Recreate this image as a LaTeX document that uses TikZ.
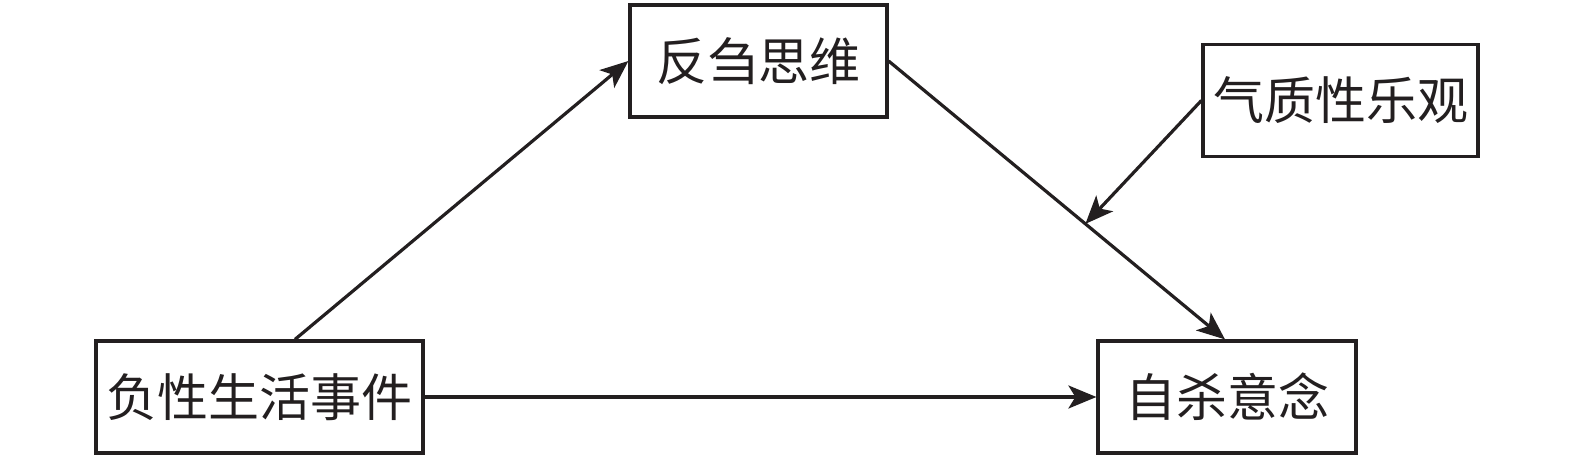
\documentclass[tikz,border=0pt]{standalone}
\usepackage{fontspec}
\newfontfamily\cjk{Noto Sans CJK SC}
\usetikzlibrary{arrows.meta,calc}
\definecolor{ink}{HTML}{231F20}
\tikzset{
  box/.style={draw=ink, text=ink, line width=1.6pt, minimum height=56pt, inner sep=0pt, font=\cjk\fontsize{25.5pt}{30pt}\selectfont},
  conn/.style={draw=ink, line width=1.6pt, -{Stealth[length=14pt,width=11.5pt,inset=3.5pt]}}
}
\begin{document}
\begin{tikzpicture}[x=0.5pt,y=-0.5pt]
\useasboundingbox (0,0) rectangle (1575,459);
\node[box, minimum width=128.5pt] (fan) at (758.5,61) {反刍思维};
\node[box, minimum width=137.5pt] (qi) at (1340.5,100.5) {气质性乐观};
\node[box, minimum width=163.5pt] (fu) at (259.5,397) {负性生活事件};
\node[box, minimum width=129pt] (zi) at (1227,397) {自杀意念};
\draw[conn] ([xshift=17.75pt]fu.north) -- (fan.west);
\draw[conn] (fan.east) -- ([xshift=-1pt]zi.north) coordinate[pos=0.585] (m);
\draw[conn] (qi.west) -- (m);
\draw[conn] (fu.east) -- (zi.west);
\end{tikzpicture}
\end{document}
